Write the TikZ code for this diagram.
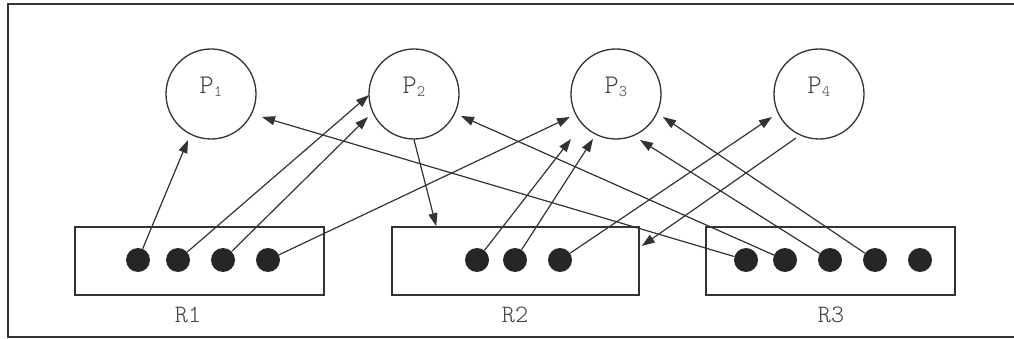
\documentclass[tikz,border=0pt]{standalone}
\usepackage{fontspec}
\usetikzlibrary{arrows.meta,calc}
\newfontfamily\monofont{Latin Modern Mono Light}
\definecolor{ln}{gray}{0.2}
\definecolor{tokfill}{gray}{0.15}
\definecolor{tx}{gray}{0.25}
\newcommand{\procfont}{\monofont\fontsize{27}{27}\selectfont}
\newcommand{\resfont}{\monofont\fontsize{25}{25}\selectfont}
\newcommand{\sub}[1]{\raisebox{-3pt}{\fontsize{16}{16}\selectfont #1}}
\tikzset{
  proc/.style={circle, draw=ln, line width=1.3pt, minimum size=90pt, inner sep=0pt,
    font=\procfont, text=tx, text height=12pt, text depth=12pt},
  res/.style={rectangle, draw=ln, line width=1.6pt, inner sep=0pt,
    minimum height=68pt},
  tok/.style={circle, fill=tokfill, inner sep=0pt, minimum size=24pt},
  rlabel/.style={font=\resfont, text=tx, inner sep=0pt},
  req/.style={draw=ln, line width=1.2pt, -{Triangle[length=13pt,width=9pt]}},
  frame/.style={draw=ln, line width=2.5pt}
}
\begin{document}
\begin{tikzpicture}[x=1pt, y=-1pt]
  \useasboundingbox (0,0) rectangle (1014,339);
  % outer frame (right side runs off the page)
  \draw[frame] (1020,4) -- (8,4) -- (8,337) -- (1020,337);

  % processes
  \node[proc] (P1) at (211,94) {P\sub{1}};
  \node[proc] (P2) at (414,94) {P\sub{2}};
  \node[proc] (P3) at (616,94) {P\sub{3}};
  \node[proc] (P4) at (819,94) {P\sub{4}};

  % resources
  \node[res, minimum width=249pt] (R1) at (199.5,261) {};
  \node[res, minimum width=247pt] (R2) at (515.5,261) {};
  \node[res, minimum width=249pt] (R3) at (830.5,261) {};
  \node[rlabel] (L1) at (188,315) {R1};
  \node[rlabel] (L2) at (515,315) {R2};
  \node[rlabel] (L3) at (831,315) {R3};

  % instances
  \node[tok] (a1) at (138,260) {};
  \node[tok] (a2) at (178,260) {};
  \node[tok] (a3) at (223,260) {};
  \node[tok] (a4) at (268,260) {};
  \node[tok] (b1) at (477,260) {};
  \node[tok] (b2) at (515,260) {};
  \node[tok] (b3) at (560,260) {};
  \node[tok] (c1) at (746,260) {};
  \node[tok] (c2) at (785,260) {};
  \node[tok] (c3) at (830,260) {};
  \node[tok] (c4) at (875,260) {};
  \node[tok] (c5) at (920,260) {};

  % assignment and request edges
  \draw[req] (a1) -- ($(P1)+(-23,46)$);
  \draw[req] (a2) -- ($(P2)+(-45,1)$);
  \draw[req] (a3) -- ($(P2)+(-46,23)$);
  \draw[req] (a4) -- ($(P3)+(-46,23)$);
  \draw[req] (P2.south) -- ([xshift=45pt]R2.north west);
  \draw[req] (b1) -- ($(P3)+(-45,45)$);
  \draw[req] (b2) -- ($(P3)+(-23,45)$);
  \draw[req] (b3) -- ($(P4)+(-47,23)$);
  \draw[req] ($(P4)+(-23,44)$) -- ($(R2.east)+(2,-15)$);
  \draw[req] (c1) -- ($(P1)+(51,23)$);
  \draw[req] (c2) -- ($(P2)+(47,22)$);
  \draw[req] (c3) -- ($(P3)+(24,46)$);
  \draw[req] (c4) -- ($(P3)+(47,23)$);
\end{tikzpicture}
\end{document}
